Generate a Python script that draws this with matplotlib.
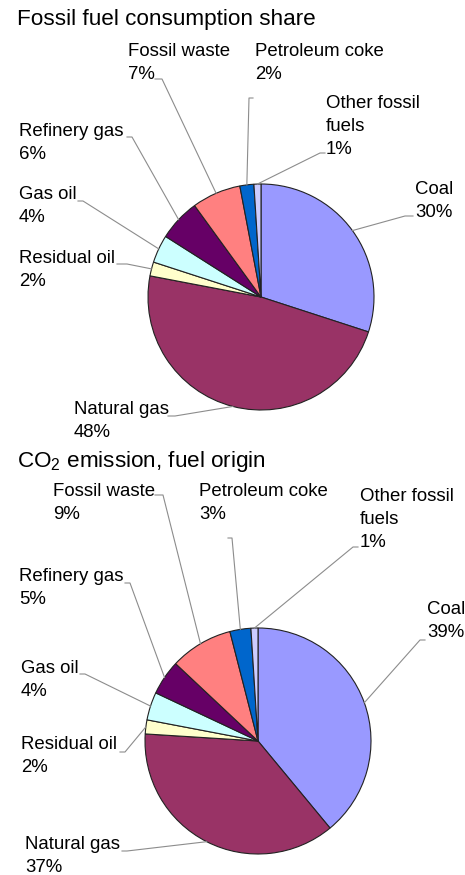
import numpy as np
import matplotlib
matplotlib.use("Agg")
import matplotlib.pyplot as plt
from matplotlib.lines import Line2D

plt.rcParams['font.family'] = ['Liberation Sans', 'DejaVu Sans']
plt.rcParams['mathtext.fontset'] = 'custom'
plt.rcParams['mathtext.rm'] = 'Liberation Sans'

# data
fuels = ["Coal", "Natural gas", "Residual oil", "Gas oil", "Refinery gas",
         "Fossil waste", "Petroleum coke", "Other fossil\nfuels"]
consumption = [30, 48, 2, 4, 6, 7, 2, 1]
emission = [39, 37, 2, 4, 5, 9, 3, 1]
colors = ["#9999FF", "#993366", "#FFFFCC", "#CCFFFF", "#660066",
          "#FF8080", "#0066CC", "#CCCCFF"]

W, H = 465, 875
fig = plt.figure(figsize=(W / 100, H / 100), dpi=100)

# layout (pixels from top-left): label top-left, leader stub (x0, x1, y)
top_layout = {
    "labels": [(415, 181), (74, 401), (19, 250), (19, 186), (19, 123),
               (128, 43), (255, 43), (326, 95)],
    "stubs": [(413, 405, 216), (168, 175, 416), (117, 127, 264), (78, 83, 201),
              (127, 132, 137), (155, 162, 79), (253, 249, 98), (325, 320, 153)],
}
bot_layout = {
    "labels": [(427, 601), (25, 836), (21, 736), (21, 660), (19, 568),
               (53, 483), (199, 483), (360, 488)],
    "stubs": [(425, 420, 640), (122, 127, 851), (120, 125, 752), (80, 85, 674),
              (125, 130, 583), (155, 163, 495), (228, 232, 538), (358, 353, 547)],
}


def draw_pie(values, cx, cy, r, layout, title, title_y):
    m = 1.05
    ax = fig.add_axes([(cx - r * m) / W, (H - cy - r * m) / H, 2 * r * m / W, 2 * r * m / H])
    wedges, _ = ax.pie(values, colors=colors, startangle=90, counterclock=False,
                       wedgeprops=dict(edgecolor="#222222", linewidth=0.8))
    ax.set_xlim(-m, m)
    ax.set_ylim(-m, m)
    ax.set_aspect('equal')
    fig.text(17 / W, 1 - title_y / H, title, ha='left', va='center', fontsize=16.2)

    for w, name, v, (lx, ly), (sx0, sx1, sy) in zip(wedges, fuels, values,
                                                       layout["labels"], layout["stubs"]):
        fig.text(lx / W, 1 - ly / H, f"{name}\n{v}%", ha='left', va='top',
                 fontsize=13.4, linespacing=1.48)
        ang = np.deg2rad((w.theta1 + w.theta2) / 2)
        ex, ey = ax.transData.transform((np.cos(ang) * 1.0, np.sin(ang) * 1.0))
        xs = [sx0, sx1, ex]
        ys = [H - sy, H - sy, ey]
        fig.add_artist(Line2D(np.array(xs) / W, np.array(ys) / H, transform=fig.transFigure,
                              color="#8c8c8c", linewidth=0.8))


draw_pie(consumption, 261, 297, 113, top_layout, "Fossil fuel consumption share", 20)
draw_pie(emission, 258, 741, 113, bot_layout, r"CO$_{2}$ emission, fuel origin", 462)

fig.savefig("out.png", dpi=100)
